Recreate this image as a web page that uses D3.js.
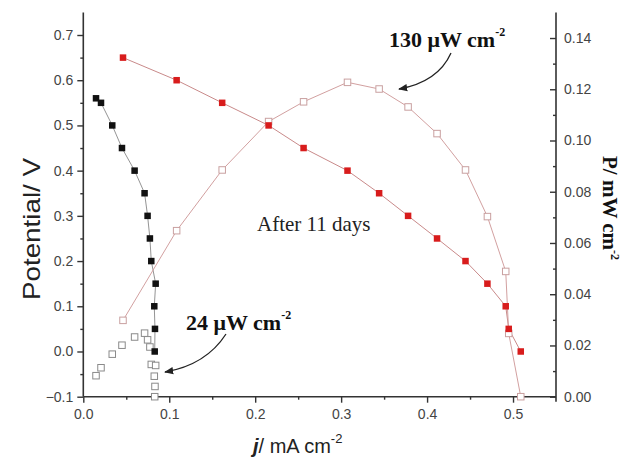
<!DOCTYPE html>
<html>
<head>
<meta charset="utf-8">
<script src="https://cdn.jsdelivr.net/npm/d3@7"></script>
<style>
 body { margin:0; background:#fff; }
</style>
</head>
<body>
<script>
// day 1 curve (black)
var jDay1 = [0.0148, 0.0206, 0.0337, 0.0450, 0.0597, 0.0713, 0.0748, 0.0775, 0.0791, 0.0842, 0.0826, 0.0834, 0.0831];
var vDay1 = [0.56, 0.55, 0.50, 0.45, 0.40, 0.35, 0.30, 0.25, 0.20, 0.15, 0.10, 0.05, 0.00];
var pDay1 = [0.0082, 0.0113, 0.0166, 0.0201, 0.0233, 0.0248, 0.0222, 0.0194, 0.0126, 0.0122, 0.0080, 0.0040, 0.0];
// after 11 days (red)
var jDay11 = [0.0462, 0.1086, 0.1616, 0.2156, 0.2563, 0.3074, 0.3442, 0.3779, 0.4116, 0.4447, 0.4702, 0.4915, 0.4950, 0.5090];
var vDay11 = [0.65, 0.60, 0.55, 0.50, 0.45, 0.40, 0.35, 0.30, 0.25, 0.20, 0.15, 0.10, 0.05, 0.00];
var pDay11 = [0.0298, 0.0648, 0.0885, 0.1074, 0.1151, 0.1227, 0.1201, 0.1131, 0.1027, 0.0885, 0.0703, 0.0489, 0.0247, 0.0];

var xTicks = [0.0, 0.1, 0.2, 0.3, 0.4, 0.5];
var yLTicks = [-0.1, 0.0, 0.1, 0.2, 0.3, 0.4, 0.5, 0.6, 0.7];
var yRTicks = [0.00, 0.02, 0.04, 0.06, 0.08, 0.10, 0.12, 0.14];

var W = 626, H = 458;
var m = {left:83.3, right:70, top:12.4, bottom:61.3};
var sans = "Liberation Sans, Arial, sans-serif";
var serif = "Liberation Serif, Times New Roman, serif";

var svg = d3.select("body").append("svg").attr("width", W).attr("height", H);

var x = d3.scaleLinear().domain([0, 0.55]).range([m.left, W - m.right]);
var yL = d3.scaleLinear().domain([-0.1, 0.75]).range([H - m.bottom, m.top]);
var yR = d3.scaleLinear().domain([0, 0.15]).range([H - m.bottom, m.top]);

var axisCol = "#333";
var labCol = "#444";

// axes
var gx = svg.append("g").attr("transform", "translate(0," + (H - m.bottom) + ")")
 .call(d3.axisBottom(x).tickValues(xTicks).tickFormat(d3.format(".1f")).tickSize(6).tickPadding(6));
var gxm = svg.append("g").attr("transform", "translate(0," + (H - m.bottom) + ")")
 .call(d3.axisBottom(x).tickValues([0.05,0.15,0.25,0.35,0.45]).tickFormat("").tickSize(3));

var gl = svg.append("g").attr("transform", "translate(" + m.left + ",0)")
 .call(d3.axisLeft(yL).tickValues(yLTicks).tickFormat(d3.format(".1f")).tickSize(6).tickPadding(4));
var glm = svg.append("g").attr("transform", "translate(" + m.left + ",0)")
 .call(d3.axisLeft(yL).tickValues([-0.05,0.05,0.15,0.25,0.35,0.45,0.55,0.65]).tickFormat("").tickSize(3));

var gr = svg.append("g").attr("transform", "translate(" + (W - m.right) + ",0)")
 .call(d3.axisRight(yR).tickValues(yRTicks).tickFormat(d3.format(".2f")).tickSize(-6).tickPadding(7));
var grm = svg.append("g").attr("transform", "translate(" + (W - m.right) + ",0)")
 .call(d3.axisRight(yR).tickValues([0.01,0.03,0.05,0.07,0.09,0.11,0.13]).tickFormat("").tickSize(-3));

[gx, gxm, gl, glm, gr, grm].forEach(function(g) {
 g.select(".domain").attr("stroke", axisCol).attr("stroke-width", 1.6);
 g.selectAll(".tick line").attr("stroke", axisCol).attr("stroke-width", 1.4);
 g.selectAll(".tick text").attr("fill", labCol).attr("font-size", 14).attr("font-family", sans);
});
gx.select(".domain").attr("d", "M" + m.left + ",0H" + (W - m.right));
gxm.select(".domain").remove(); glm.select(".domain").remove(); grm.select(".domain").remove();
gl.select(".domain").attr("d", "M0," + m.top + "V" + (H - m.bottom));
gr.select(".domain").attr("d", "M0," + m.top + "V" + (H - m.bottom + 5));
gr.selectAll(".tick text").attr("x", 8);

// lines
function pts(js, vs) { return js.map(function(d, i) { return [d, vs[i]]; }); }

var d1 = pts(jDay1, vDay1), p1 = pts(jDay1, pDay1);
var d11 = pts(jDay11, vDay11), p11 = pts(jDay11, pDay11);

var lineL = d3.line().x(function(d) { return x(d[0]); }).y(function(d) { return yL(d[1]); });
var lineR = d3.line().x(function(d) { return x(d[0]); }).y(function(d) { return yR(d[1]); });

svg.append("path").attr("d", lineL(d1)).attr("fill", "none").attr("stroke", "#888").attr("stroke-width", 0.9);
svg.append("path").attr("d", lineL(d11)).attr("fill", "none").attr("stroke", "#c98a8a").attr("stroke-width", 1);
svg.append("path").attr("d", lineR(p11)).attr("fill", "none").attr("stroke", "#d2a0a0").attr("stroke-width", 1);

var s = 6.5;
svg.selectAll(".p1").data(p1).enter().append("rect")
 .attr("x", function(d) { return x(d[0]) - s/2; }).attr("y", function(d) { return yR(d[1]) - s/2; })
 .attr("width", s).attr("height", s).attr("fill", "#fff").attr("stroke", "#8a8a8a").attr("stroke-width", 1);
svg.selectAll(".p11").data(p11).enter().append("rect")
 .attr("x", function(d) { return x(d[0]) - s/2; }).attr("y", function(d) { return yR(d[1]) - s/2; })
 .attr("width", s).attr("height", s).attr("fill", "#fff").attr("stroke", "#c9a0a0").attr("stroke-width", 1);
svg.selectAll(".d1").data(d1).enter().append("rect")
 .attr("x", function(d) { return x(d[0]) - s/2; }).attr("y", function(d) { return yL(d[1]) - s/2; })
 .attr("width", s).attr("height", s).attr("fill", "#111");
svg.selectAll(".d11").data(d11).enter().append("rect")
 .attr("x", function(d) { return x(d[0]) - s/2; }).attr("y", function(d) { return yL(d[1]) - s/2; })
 .attr("width", s).attr("height", s).attr("fill", "#d81c1c");

// axis titles
svg.append("text").attr("transform", "translate(40,229) rotate(-90)")
 .attr("text-anchor", "middle").attr("font-family", sans).attr("font-size", 24).attr("fill", "#222")
 .attr("textLength", 142).attr("lengthAdjust", "spacingAndGlyphs")
 .text("Potential/ V");

var bt = svg.append("text").attr("x", 253).attr("y", 453).attr("font-family", sans).attr("font-size", 20).attr("fill", "#222");
bt.append("tspan").attr("font-weight", "bold").attr("font-style", "italic").text("j");
bt.append("tspan").text("/ mA cm");
bt.append("tspan").attr("font-size", 13).attr("dy", -10).text("-2");

var rt = svg.append("text").attr("transform", "translate(603,156) rotate(90)")
 .attr("font-family", serif).attr("font-weight", "bold")
 .attr("font-size", 21).attr("fill", "#111");
rt.append("tspan").text("P/ mW cm");
rt.append("tspan").attr("font-size", 12).attr("dy", -8).text("-2");

// annotations
svg.append("text").attr("x", 257).attr("y", 231)
 .attr("font-family", serif).attr("font-size", 21).attr("fill", "#222")
 .text("After 11 days");

function note(tx, ty, t) {
 var n = svg.append("text").attr("x", tx).attr("y", ty)
  .attr("font-family", serif).attr("font-weight", "bold")
  .attr("font-size", 22).attr("fill", "#111");
 n.append("tspan").text(t);
 n.append("tspan").attr("font-size", 12).attr("dy", -11).text("-2");
}
note(389, 47, "130 \u03bcW cm");
note(186, 330, "24 \u03bcW cm");

svg.append("defs").append("marker").attr("id", "ah").attr("viewBox", "0 0 10 10")
 .attr("refX", 9).attr("refY", 5).attr("markerWidth", 7).attr("markerHeight", 7).attr("orient", "auto")
 .append("path").attr("d", "M0,1L10,5L0,9z").attr("fill", "#222");

svg.append("path").attr("d", "M451,53 Q438,82 399,89").attr("fill", "none")
 .attr("stroke", "#222").attr("stroke-width", 1.3).attr("marker-end", "url(#ah)");
svg.append("path").attr("d", "M226,334 Q206,365 165,372").attr("fill", "none")
 .attr("stroke", "#222").attr("stroke-width", 1.3).attr("marker-end", "url(#ah)");
</script>
</body>
</html>
